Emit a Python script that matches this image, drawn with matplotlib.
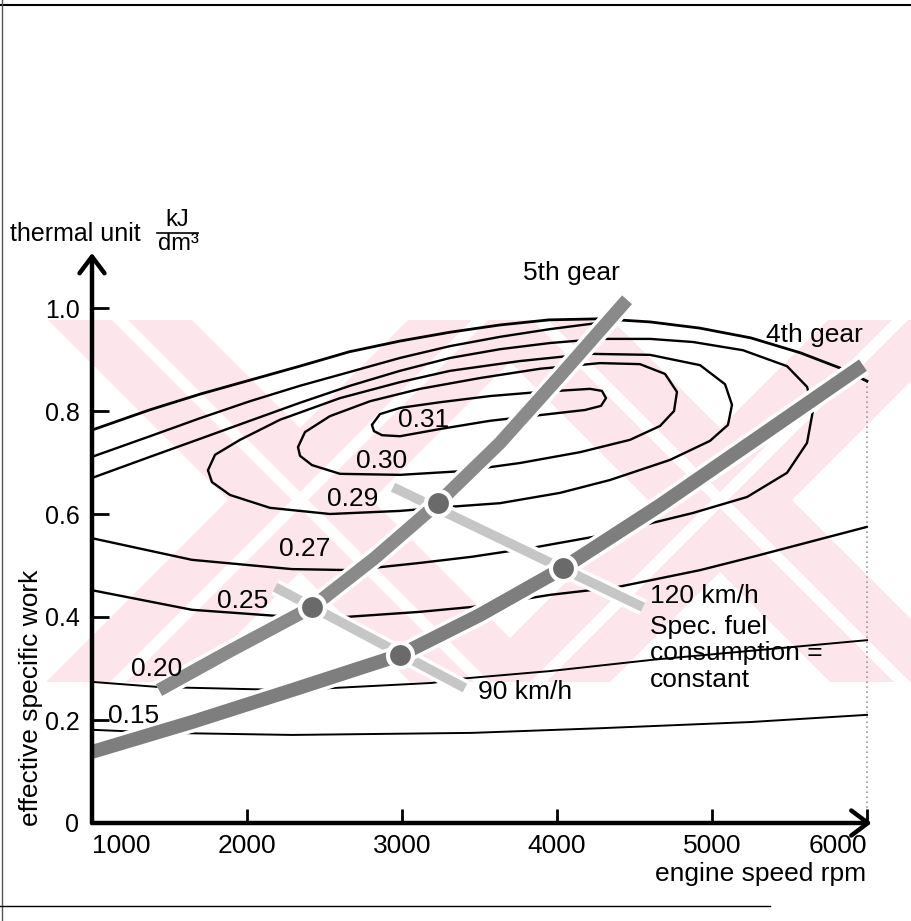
import matplotlib
matplotlib.use('Agg')
import matplotlib.pyplot as plt
import matplotlib.patheffects as pe
from matplotlib.lines import Line2D
from matplotlib.patches import Polygon

plt.rcParams['font.family'] = ['Liberation Sans', 'DejaVu Sans']

W, H = 912, 921

# full-load line (max effective specific work)
rpm_full = [1000, 1370, 1700, 2020, 2340, 2660, 2990, 3310, 3630, 3950, 4280, 4600, 4920, 5250, 5570, 5830, 6000]
work_full = [0.763, 0.802, 0.833, 0.860, 0.887, 0.915, 0.936, 0.953, 0.967, 0.977, 0.979, 0.973, 0.961, 0.942, 0.913, 0.883, 0.858]

# efficiency contours
rpm_031 = [2806, 2858, 2987, 3245, 3568, 3890, 4213, 4290, 4316, 4284, 4181, 3890, 3568, 3245, 2987, 2871, 2819, 2806]
work_031 = [0.773, 0.794, 0.806, 0.817, 0.829, 0.837, 0.843, 0.839, 0.825, 0.810, 0.802, 0.792, 0.781, 0.765, 0.751, 0.753, 0.761, 0.773]

rpm_030 = [2329, 2374, 2535, 2794, 3116, 3503, 3890, 4277, 4535, 4697, 4774, 4755, 4665, 4471, 4148, 3761, 3374, 2987, 2600, 2419, 2342, 2329]
work_030 = [0.730, 0.759, 0.790, 0.819, 0.843, 0.864, 0.882, 0.893, 0.891, 0.872, 0.837, 0.800, 0.771, 0.744, 0.720, 0.699, 0.683, 0.676, 0.678, 0.695, 0.713, 0.730]

rpm_029 = [1748, 1794, 1955, 2213, 2600, 2987, 3310, 3761, 4213, 4600, 4923, 5084, 5129, 5103, 4987, 4729, 4342, 4019, 3632, 3310, 2987, 2535, 2148, 1890, 1774, 1748]
work_029 = [0.685, 0.715, 0.744, 0.783, 0.825, 0.856, 0.878, 0.897, 0.911, 0.909, 0.889, 0.852, 0.812, 0.773, 0.742, 0.705, 0.666, 0.641, 0.621, 0.614, 0.606, 0.600, 0.612, 0.637, 0.662, 0.685]

rpm_027 = [1000, 1374, 1697, 2019, 2342, 2665, 2987, 3310, 3632, 3955, 4277, 4600, 4877, 5200, 5484, 5613, 5652,
           5613, 5484, 5226, 4877, 4619, 4297, 3871, 3452, 3116, 2677, 2290, 1645, 1000]
work_027 = [0.670, 0.711, 0.746, 0.781, 0.816, 0.849, 0.878, 0.903, 0.920, 0.932, 0.940, 0.940, 0.934, 0.918, 0.887, 0.847, 0.802,
            0.738, 0.680, 0.633, 0.602, 0.583, 0.559, 0.536, 0.517, 0.505, 0.491, 0.493, 0.511, 0.553]

rpm_025_up = [1000, 1374, 1697, 2019, 2342, 2665, 2987, 3310, 3632, 3955, 4213, 4374]
work_025_up = [0.711, 0.751, 0.786, 0.819, 0.849, 0.876, 0.903, 0.926, 0.944, 0.959, 0.969, 0.975]
rpm_025_low = [1000, 1645, 2290, 2632, 3116, 3503, 3955, 4387, 4923, 5265, 5632, 6000]
work_025_low = [0.452, 0.414, 0.400, 0.400, 0.410, 0.421, 0.443, 0.458, 0.491, 0.517, 0.546, 0.575]

rpm_020 = [1000, 1432, 2290, 3194, 3374, 3955, 4619, 5310, 6000]
work_020 = [0.274, 0.264, 0.258, 0.272, 0.280, 0.295, 0.317, 0.336, 0.355]

rpm_015 = [1000, 1471, 2290, 3452, 4277, 5245, 6000]
work_015 = [0.181, 0.175, 0.171, 0.175, 0.184, 0.196, 0.210]

contour_labels = ['0.31', '0.30', '0.29', '0.27', '0.25', '0.20', '0.15']
label_rpm = [3140, 2870, 2680, 2375, 1970, 1415, 1270]
label_work = [0.783, 0.703, 0.629, 0.532, 0.431, 0.299, 0.208]

# gear lines
rpm_5th = [1432, 1890, 2419, 2826, 3232, 3632, 4019, 4452]
work_5th = [0.258, 0.334, 0.419, 0.515, 0.621, 0.738, 0.868, 1.016]
rpm_4th = [1000, 1645, 2290, 2987, 3503, 4039, 4665, 5310, 5974]
work_4th = [0.138, 0.196, 0.258, 0.326, 0.404, 0.495, 0.617, 0.751, 0.889]

# constant road speed lines
rpm_90 = [2181, 3406]
work_90 = [0.458, 0.262]
rpm_120 = [2942, 4555]
work_120 = [0.652, 0.419]

# operating points
op_rpm = [2419, 2987, 3232, 4039]
op_work = [0.419, 0.326, 0.621, 0.495]

x_ticks = [1000, 2000, 3000, 4000, 5000, 6000]
y_ticks = [0, 0.2, 0.4, 0.6, 0.8, 1.0]
y_ticklabels = ['0', '0.2', '0.4', '0.6', '0.8', '1.0']


def fx(px):
    return px / W


def fy(py):
    return 1 - py / H


fig = plt.figure(figsize=(W / 100, H / 100), dpi=100)

# pink watermark bands (background)
pink = '#fde6eb'
for xc_top, d in [(120, 1), (480, -1), (540, 1), (900, -1)]:
    y0, y1 = 320, 682
    xb = xc_top + d * (y1 - y0)
    hw = 72
    pts = [(xc_top - hw, y0), (xc_top + hw, y0), (xb + hw, y1), (xb - hw, y1)]
    fig.add_artist(Polygon([(fx(a), fy(b)) for a, b in pts], closed=True, transform=fig.transFigure,
                           facecolor=pink, edgecolor='none', zorder=-2))
    g = 8
    pts = [(xc_top - g, y0), (xc_top + g, y0), (xb + g, y1), (xb - g, y1)]
    fig.add_artist(Polygon([(fx(a), fy(b)) for a, b in pts], closed=True, transform=fig.transFigure,
                           facecolor='white', edgecolor='none', zorder=-1))

ax = fig.add_axes([fx(92), fy(823), fx(872) - fx(92), fy(250) - fy(823)])
ax.patch.set_alpha(0)
ax.set_xlim(1000, 1000 + 780 * 1000 / 155)
ax.set_ylim(0, 573 / 515)
for s in ax.spines.values():
    s.set_visible(False)

# contours
cl = dict(color='black', lw=1.7, solid_capstyle='round', zorder=2)
ax.plot(rpm_full, work_full, color='black', lw=2.0, zorder=2)
ax.plot(rpm_031, work_031, **cl)
ax.plot(rpm_030, work_030, **cl)
ax.plot(rpm_029, work_029, **cl)
ax.plot(rpm_027, work_027, **cl)
ax.plot(rpm_025_up, work_025_up, **cl)
ax.plot(rpm_025_low, work_025_low, **cl)
ax.plot(rpm_020, work_020, color='black', lw=1.4, zorder=2)
ax.plot(rpm_015, work_015, color='black', lw=1.4, zorder=2)

for t, x, y in zip(contour_labels, label_rpm, label_work):
    ax.text(x, y, t, fontsize=19, ha='center', va='center', zorder=6)

# rpm limit
ax.plot([6000, 6000], [0, 0.858], color='#9a9a9a', lw=1.2, ls=(0, (1, 2)), zorder=1)

halo = lambda lw: [pe.Stroke(linewidth=lw + 5, foreground='white'), pe.Normal()]

ax.plot(rpm_90, work_90, color='#c6c6c6', lw=7, solid_capstyle='butt', zorder=3, path_effects=halo(7))
ax.plot(rpm_120, work_120, color='#c6c6c6', lw=7, solid_capstyle='butt', zorder=3, path_effects=halo(7))
ax.plot(rpm_5th, work_5th, color='#8a8a8a', lw=9.5, solid_capstyle='butt', zorder=4, path_effects=halo(9.5))
ax.plot(rpm_4th, work_4th, color='#7e7e7e', lw=10, solid_capstyle='butt', zorder=4, path_effects=halo(10))
ax.plot(op_rpm, op_work, 'o', ms=18, color='#6a6a6a', mec='white', mew=3, zorder=5, ls='none')

# axes with arrows
arrow = dict(arrowstyle='->,head_length=0.6,head_width=0.45', lw=3.2, color='black',
             shrinkA=0, shrinkB=0, mutation_scale=20)
ax.annotate('', xy=(6030, 0), xytext=(1000, 0), arrowprops=arrow, annotation_clip=False, zorder=7)
ax.annotate('', xy=(1000, 1.107), xytext=(1000, 0), arrowprops=arrow, annotation_clip=False, zorder=7)

ax.set_xticks(x_ticks)
ax.set_xticklabels([str(v) for v in x_ticks], fontsize=19)
ax.set_yticks(y_ticks)
ax.set_yticklabels(y_ticklabels, fontsize=18)
ax.tick_params(axis='x', direction='in', length=10, width=2, pad=8)
ax.tick_params(axis='y', direction='in', length=12, width=2, pad=9)
xl = ax.get_xticklabels()
xl[0].set_ha('left')
xl[-1].set_ha('right')

# texts
fig.text(fx(571), fy(273), '5th gear', fontsize=19, ha='center', va='center')
fig.text(fx(814), fy(335), '4th gear', fontsize=19, ha='center', va='center')
fig.text(fx(478), fy(692), '90 km/h', fontsize=19, ha='left', va='center')
fig.text(fx(650), fy(596), '120 km/h', fontsize=19, ha='left', va='center')
fig.text(fx(650), fy(627), 'Spec. fuel', fontsize=19, ha='left', va='center')
fig.text(fx(650), fy(653), 'consumption =', fontsize=19, ha='left', va='center')
fig.text(fx(650), fy(680), 'constant', fontsize=19, ha='left', va='center')
fig.text(fx(10), fy(234), 'thermal unit', fontsize=18, ha='left', va='center')
fig.text(fx(177), fy(220), 'kJ', fontsize=17, ha='center', va='center')
fig.add_artist(Line2D([fx(157), fx(198)], [fy(233), fy(233)], color='black', lw=1.2))
fig.text(fx(178), fy(244), 'dm³', fontsize=17, ha='center', va='center')
fig.text(fx(31), fy(698), 'effective specific work', fontsize=19, rotation=90, ha='center', va='center')
fig.text(fx(866), fy(874), 'engine speed rpm', fontsize=19, ha='right', va='center')

# scan frame lines
fig.add_artist(Line2D([0, 1], [fy(5), fy(5)], color='black', lw=1.5))
fig.add_artist(Line2D([fx(2), fx(2)], [0, 1], color='#555555', lw=1.0))
fig.add_artist(Line2D([0, fx(770)], [fy(906), fy(906)], color='black', lw=1.0))

fig.savefig('out.png', dpi=100)
